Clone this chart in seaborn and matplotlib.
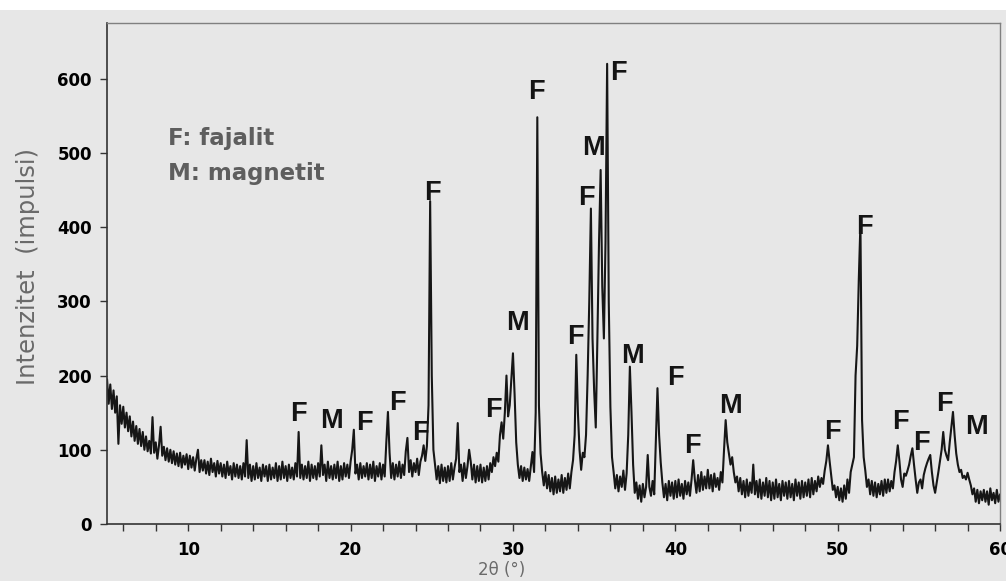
import numpy as np
import matplotlib
matplotlib.use("Agg")
import matplotlib.pyplot as plt
import seaborn as sns
from matplotlib.patches import Rectangle
from matplotlib.ticker import MultipleLocator

# scan grid, step 0.1 deg 2theta
two_theta = np.round(np.arange(5.0, 60.01, 0.1), 1)

# intensity, one row per degree (x.0 .. x.9)
counts_5_15 = [
    195, 162, 188, 155, 180, 150, 172, 108, 160, 135,
    158, 130, 150, 125, 145, 118, 138, 112, 132, 108,
    128, 105, 124, 100, 118, 98, 112, 95, 144, 96,
    110, 88, 106, 131, 92, 104, 86, 102, 84, 100,
    82, 98, 80, 95, 78, 96, 76, 92, 80, 94,
    74, 92, 76, 90, 72, 88, 100, 70, 86, 72,
    86, 68, 84, 66, 88, 70, 82, 64, 85, 68,
    82, 64, 80, 62, 84, 66, 78, 60, 82, 64,
    80, 62, 78, 60, 82, 64, 113, 62, 80, 58,
    78, 60, 82, 62, 76, 58, 80, 64, 78, 58,
]
counts_15_25 = [
    80, 60, 76, 62, 82, 58, 78, 60, 84, 62,
    78, 58, 80, 62, 76, 60, 82, 64, 124, 62,
    80, 60, 78, 62, 84, 58, 80, 62, 78, 60,
    82, 64, 106, 66, 80, 58, 84, 62, 78, 60,
    80, 62, 84, 58, 78, 60, 82, 64, 80, 62,
    84, 100, 127, 68, 80, 60, 82, 62, 78, 64,
    82, 60, 80, 62, 84, 58, 78, 64, 82, 60,
    80, 64, 110, 151, 96, 62, 82, 60, 80, 64,
    84, 62, 80, 66, 98, 116, 70, 86, 64, 82,
    70, 88, 66, 84, 92, 106, 85, 105, 160, 435,
]
counts_25_35 = [
    200, 100, 80, 60, 78, 55, 80, 58, 76, 56,
    78, 58, 82, 60, 76, 88, 136, 70, 80, 58,
    82, 62, 78, 100, 84, 60, 80, 56, 78, 58,
    80, 56, 76, 58, 78, 60, 82, 70, 90, 78,
    96, 84, 120, 137, 115, 150, 200, 145, 160, 195,
    230, 175, 110, 80, 62, 78, 58, 76, 60, 74,
    58, 78, 97, 70, 150, 548, 160, 95, 70, 52,
    70, 48, 66, 44, 62, 40, 64, 42, 60, 44,
    66, 42, 62, 46, 68, 48, 70, 86, 120, 228,
    150, 100, 73, 96, 90, 120, 200, 300, 425, 250,
]
counts_35_45 = [
    180, 130, 250, 380, 477, 320, 250, 380, 620, 300,
    158, 90, 70, 48, 66, 44, 64, 50, 72, 46,
    68, 120, 212, 150, 80, 42, 56, 34, 52, 30,
    54, 36, 50, 93, 50, 38, 58, 40, 110, 183,
    120, 83, 56, 36, 54, 32, 58, 38, 56, 34,
    58, 36, 60, 38, 54, 34, 58, 40, 56, 38,
    60, 86, 60, 42, 66, 44, 70, 46, 64, 48,
    73, 48, 66, 44, 68, 50, 62, 46, 70, 56,
    100, 140, 110, 95, 80, 90, 70, 56, 64, 44,
    62, 40, 58, 36, 60, 38, 56, 42, 80, 40,
]
counts_45_55 = [
    58, 36, 60, 34, 56, 38, 62, 36, 58, 32,
    56, 34, 60, 36, 54, 32, 58, 38, 56, 34,
    58, 36, 54, 32, 60, 38, 56, 34, 58, 36,
    56, 38, 60, 36, 62, 40, 58, 44, 64, 50,
    62, 54, 72, 85, 106, 85, 66, 46, 52, 36,
    50, 32, 48, 30, 52, 34, 60, 42, 70, 80,
    90, 200, 240, 330, 405, 140, 90, 72, 50, 60,
    40, 58, 38, 56, 36, 54, 40, 58, 38, 60,
    42, 60, 44, 58, 48, 70, 85, 106, 85, 60,
    50, 68, 65, 72, 80, 92, 102, 80, 60, 42,
]
counts_55_60 = [
    56, 60, 48, 66, 75, 82, 88, 93, 70, 52,
    42, 56, 70, 85, 100, 124, 100, 92, 86, 110,
    130, 151, 120, 95, 80, 70, 73, 62, 65, 60,
    69, 60, 52, 40, 48, 30, 46, 28, 44, 32,
    46, 30, 44, 26, 48, 32, 42, 28, 46, 30,
    40,
]
intensity = np.array(counts_5_15 + counts_15_25 + counts_25_35
                     + counts_35_45 + counts_45_55 + counts_55_60)

# phase marks above the reflections
peak_phase = ["F", "M", "F", "F", "F", "F", "F", "M", "F", "F", "F", "M",
              "F", "M", "F", "F", "M", "F", "F", "F", "F", "F", "M"]
peak_2theta = [16.76, 18.85, 20.83, 22.86, 24.33, 25.01, 28.77, 30.25,
               31.42, 33.82, 34.5, 34.99, 36.47, 37.39, 39.98, 41.08,
               43.42, 49.7, 51.67, 53.89, 55.18, 56.6, 58.57]
peak_counts = [148, 139, 136, 163, 123, 446, 154, 271, 582, 252, 439, 507,
               608, 226, 197, 105, 159, 124, 400, 137, 109, 162, 131]

legend_lines = ["F: fajalit", "M: magnetit"]

bg = "#e7e7e7"
sns.set_style("ticks")
plt.rcParams["font.family"] = ["DejaVu Sans"]

fig = plt.figure(figsize=(10.06, 5.81), dpi=100, facecolor=bg)
fig.patches.append(Rectangle((0, 0.982), 1, 0.018, transform=fig.transFigure,
                             facecolor="white", edgecolor="none", zorder=-1))
ax = fig.add_axes([0.1064, 0.0981, 0.8877, 0.8623])
ax.set_facecolor(bg)

sns.lineplot(x=two_theta, y=intensity, estimator=None, color="#161616",
             linewidth=1.5, ax=ax)

for ph, xx, yy in zip(peak_phase, peak_2theta, peak_counts):
    ax.text(xx, yy, ph, ha="center", va="center", fontsize=19.5,
            fontweight="bold", family="Liberation Sans", color="#141414")

for i, line in enumerate(legend_lines):
    ax.text(0.068, 0.756 - i * 0.07, line, transform=ax.transAxes,
            fontsize=16.5, fontweight="bold", color="#5e5e5e", va="baseline")

ax.set_xlim(5, 60)
ax.set_ylim(0, 675)
ax.set_xticks([10, 20, 30, 40, 50, 60])
ax.xaxis.set_minor_locator(MultipleLocator(2))
ax.set_yticks([0, 100, 200, 300, 400, 500, 600])

ax.tick_params(axis="both", which="both", direction="out", length=5,
               width=1, color="#333333", labelsize=12, labelcolor="black")
ax.tick_params(axis="x", pad=7)
ax.tick_params(axis="y", pad=6)
for lbl in ax.get_xticklabels() + ax.get_yticklabels():
    lbl.set_fontweight("bold")

for side in ["left", "bottom"]:
    ax.spines[side].set_color("#333333")
    ax.spines[side].set_linewidth(1.2)
for side in ["top", "right"]:
    ax.spines[side].set_visible(True)
    ax.spines[side].set_color("#808080")
    ax.spines[side].set_linewidth(1.0)

ax.set_xlabel("2θ (°)", fontsize=12, color="#6a6a6a")
ax.xaxis.set_label_coords(0.442, -0.074)
ax.set_ylabel("Intenzitet  (impulsi)", fontsize=17.5, color="#6a6a6a")
ax.yaxis.set_label_coords(-0.075, 0.513)

fig.savefig("out.png", dpi=100, facecolor=bg)
